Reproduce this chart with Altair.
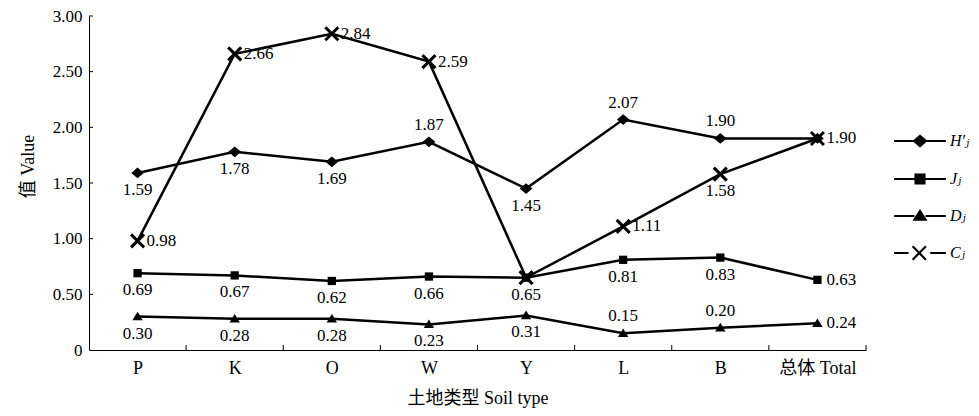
import json
import altair as alt
import pandas as pd

# ---------------- data ----------------
categories = ["P", "K", "O", "W", "Y", "L", "B", "总体 Total"]
series_names = ["H′ⱼ", "Jⱼ", "Dⱼ", "Cⱼ"]
H_vals = [1.59, 1.78, 1.69, 1.87, 1.45, 2.07, 1.90, 1.90]
J_vals = [0.69, 0.67, 0.62, 0.66, 0.65, 0.81, 0.83, 0.63]
D_vals = [0.30, 0.28, 0.28, 0.23, 0.31, 0.15, 0.20, 0.24]
C_vals = [0.98, 2.66, 2.84, 2.59, 0.65, 1.11, 1.58, 1.90]
# where each value label sits relative to its point
H_pos = ["below", "below", "below", "above", "below", "above", "above", "none"]
J_pos = ["below", "below", "below", "below", "none", "below", "below", "right"]
D_pos = ["below", "below", "below", "below", "below", "above", "above", "right"]
C_pos = ["right", "right", "right", "right", "below", "right", "below", "right"]
y_ticks = [0.0, 0.5, 1.0, 1.5, 2.0, 2.5, 3.0]

rows = []
for name, vals, poss in zip(series_names, [H_vals, J_vals, D_vals, C_vals],
                            [H_pos, J_pos, D_pos, C_pos]):
    for i, (v, p) in enumerate(zip(vals, poss)):
        rows.append({"idx": i, "cat": categories[i], "series": name,
                     "value": v, "pos": p, "label": f"{v:.2f}"})
df = pd.DataFrame(rows)

xticks_df = pd.DataFrame({"idx": [i + 0.5 for i in range(len(categories))]})
yticks_df = pd.DataFrame({"value": [t for t in y_ticks if t > 0]})

FONT = "Liberation Serif, Noto Sans CJK SC"
SERIF = "Liberation Serif"
W, Hh = 777, 334

xscale = alt.Scale(domain=[-0.5, len(categories) - 0.5], nice=False, zero=False)
yscale = alt.Scale(domain=[0, 3], nice=False, zero=False)

label_expr_x = json.dumps(categories, ensure_ascii=False) + "[datum.value]"
X = alt.X("idx:Q", scale=xscale,
          axis=alt.Axis(values=list(range(len(categories))), labelExpr=label_expr_x,
                        ticks=False, grid=False, title="土地类型  Soil type",
                        labelPadding=9, titlePadding=12, labelFontSize=18,
                        titleFontSize=18, titleFontWeight="normal",
                        labelFont=FONT, titleFont=FONT))
Y = alt.Y("value:Q", scale=yscale,
          axis=alt.Axis(values=y_ticks,
                        labelExpr="datum.value == 0 ? '0' : format(datum.value, '.2f')",
                        ticks=False, grid=False, title="值  Value",
                        labelPadding=7, titlePadding=15, labelFontSize=17,
                        titleFontSize=18, titleFontWeight="normal", titleY=150,
                        labelFont=FONT, titleFont=FONT))

base = alt.Chart(df)

lines = base.mark_line(color="black", strokeWidth=2.5).encode(
    x=X, y=Y, detail="series:N", order="idx:Q")

diamond = "M-1,0L0,-0.85L1,0L0,0.85Z"
square = "M-0.7,-0.7L0.7,-0.7L0.7,0.7L-0.7,0.7Z"
triangle = "M-0.85,0.6L0,-0.8L0.85,0.6Z"
cross = "M-1,-1L1,1M-1,1L1,-1"

def pts(name, shape, size=150):
    return base.transform_filter(alt.datum.series == name).mark_point(
        shape=shape, size=size, filled=True, color="black", opacity=1).encode(x=X, y=Y)

p_h = pts(series_names[0], diamond, 160)
p_j = pts(series_names[1], square, 140)
p_d = pts(series_names[2], triangle, 150)
p_c = base.transform_filter(alt.datum.series == series_names[3]).mark_point(
    shape=cross, size=169, filled=False, color="black", strokeWidth=3,
    opacity=1).encode(x=X, y=Y)

def labels(pos, **kw):
    return base.transform_filter(alt.datum.pos == pos).mark_text(
        font=SERIF, fontSize=17, color="black", **kw).encode(x=X, y=Y, text="label:N")

lab_below = labels("below", dy=17, align="center", baseline="middle")
lab_above = labels("above", dy=-17, align="center", baseline="middle")
lab_right = labels("right", dx=9, align="left", baseline="middle")

xtick_rules = alt.Chart(xticks_df).mark_rule(color="black", strokeWidth=1).encode(
    x=X, y=alt.value(Hh), y2=alt.value(Hh - 5))
ytick_rules = alt.Chart(yticks_df).mark_rule(color="black", strokeWidth=1).encode(
    y=Y, x=alt.value(0), x2=alt.value(4))

# legend symbols: line + marker
leg_paths = [
    "M-1.4,0L-0.32,0M0.32,0L1.4,0M-0.32,0L0,-0.27L0.32,0L0,0.27Z",
    "M-1.4,0L-0.24,0M0.24,0L1.4,0M-0.24,-0.24L0.24,-0.24L0.24,0.24L-0.24,0.24Z",
    "M-1.4,0L-0.3,0M0.3,0L1.4,0M-0.3,0.2L0,-0.27L0.3,0.2Z",
    "M-1.4,0L-0.62,0M0.55,0L1.4,0M-0.4,-0.36L0.32,0.36M-0.4,0.36L0.32,-0.36",
]
leg = alt.Legend(orient="none", legendX=811, legendY=105,
                 title=None, symbolSize=1369, symbolOpacity=1,
                 symbolStrokeWidth=2.2,
                 labelFont="Liberation Serif, DejaVu Serif",
                 labelFontStyle="italic", labelFontSize=16,
                 labelColor="black", labelOffset=10,
                 rowPadding=8, padding=0)
legend_layer = base.mark_point(filled=True, strokeWidth=2, opacity=0,
                               size=1369).encode(
    x=X, y=Y,
    shape=alt.Shape("series:N",
                    scale=alt.Scale(domain=series_names, range=leg_paths),
                    legend=leg, title=None),
    stroke=alt.Stroke("series:N",
                      scale=alt.Scale(domain=series_names, range=["black"] * 4),
                      legend=leg, title=None),
    fill=alt.Fill("series:N",
                  scale=alt.Scale(domain=series_names, range=["black"] * 4),
                  legend=leg, title=None),
)

chart = alt.layer(
    lines, xtick_rules, ytick_rules, legend_layer, p_h, p_j, p_d, p_c,
    lab_below, lab_above, lab_right,
).properties(
    width=W, height=Hh,
    padding={"left": 81, "top": 8, "right": 105, "bottom": 64},
    autosize=alt.AutoSizeParams(type="none"),
    background="white",
).configure_view(stroke=None).configure_axis(
    domainColor="black", domainWidth=1, labelColor="black", titleColor="black"
)

chart.save("out.html", embed_options={"renderer": "svg", "actions": False})
